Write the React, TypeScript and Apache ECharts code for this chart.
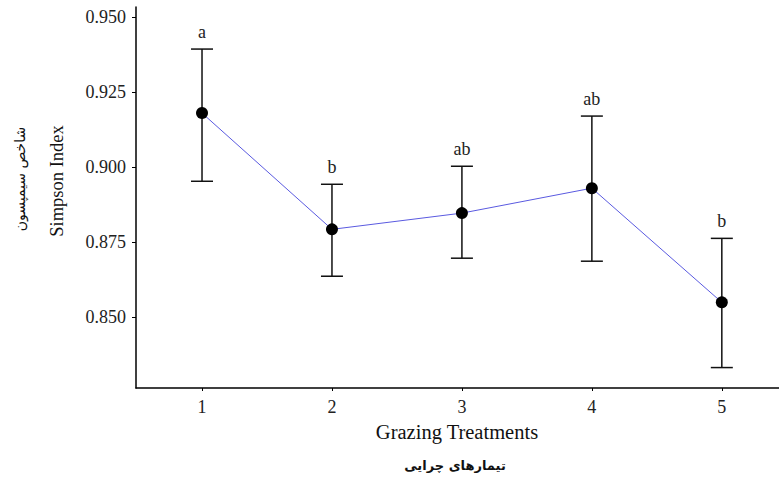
import React, { useEffect, useRef } from "react";
import * as echarts from "echarts";

const treatments = [1, 2, 3, 4, 5];
const means = [0.918, 0.8793, 0.8847, 0.893, 0.855];
const upper = [0.9393, 0.8943, 0.9003, 0.917, 0.8763];
const lower = [0.8953, 0.8637, 0.8697, 0.8687, 0.8333];
const groupLetters = ["a", "b", "ab", "ab", "b"];
const yTicks = [0.85, 0.875, 0.9, 0.925, 0.95];
const xTicks = [1, 2, 3, 4, 5];

const SERIF = "'Liberation Serif', 'Times New Roman', serif";
const PERSIAN = "'DejaVu Sans', 'Noto Sans', sans-serif";

export default function App() {
  const ref = useRef<HTMLDivElement>(null);
  useEffect(() => {
    if (!ref.current) return;
    const chart = echarts.init(ref.current, null, { renderer: "svg" });
    const errData = treatments.map((t, i) => [t, lower[i], upper[i], i]);
    chart.setOption({
      animation: false,
      backgroundColor: "#ffffff",
      grid: { left: 136, right: 0, top: 7, bottom: 89, containLabel: false },
      xAxis: {
        type: "value",
        min: 0.492,
        max: 5.44,
        splitLine: { show: false },
        axisLine: { show: true, onZero: false, lineStyle: { color: "#000", width: 1.5 } },
        axisTick: { show: true, length: 3, customValues: xTicks, lineStyle: { color: "#000" } },
        axisLabel: {
          customValues: xTicks,
          color: "#222",
          fontFamily: SERIF,
          fontSize: 18,
          margin: 10,
        },
      },
      yAxis: {
        type: "value",
        min: 0.8265,
        max: 0.9533,
        splitLine: { show: false },
        axisLine: { show: true, onZero: false, lineStyle: { color: "#000", width: 1.5 } },
        axisTick: { show: true, length: 4, customValues: yTicks, lineStyle: { color: "#000" } },
        axisLabel: {
          customValues: yTicks,
          color: "#222",
          fontFamily: SERIF,
          fontSize: 18,
          margin: 10,
          formatter: (v: number) => v.toFixed(3),
        },
      },
      series: [
        {
          type: "custom",
          data: errData,
          z: 2,
          renderItem: (params: any, api: any) => {
            const x = api.value(0);
            const lo = api.coord([x, api.value(1)]);
            const hi = api.coord([x, api.value(2)]);
            const idx = api.value(3);
            const hw = 11;
            const st = { stroke: "#111", lineWidth: 1.5 };
            return {
              type: "group",
              children: [
                { type: "line", shape: { x1: lo[0], y1: lo[1], x2: hi[0], y2: hi[1] }, style: st },
                { type: "line", shape: { x1: hi[0] - hw, y1: hi[1], x2: hi[0] + hw, y2: hi[1] }, style: st },
                { type: "line", shape: { x1: lo[0] - hw, y1: lo[1], x2: lo[0] + hw, y2: lo[1] }, style: st },
                {
                  type: "text",
                  x: hi[0],
                  y: hi[1] - 8,
                  style: {
                    text: groupLetters[idx],
                    fill: "#222",
                    font: `18px ${SERIF}`,
                    textAlign: "center",
                    textVerticalAlign: "bottom",
                  },
                },
              ],
            };
          },
        },
        {
          type: "line",
          data: treatments.map((t, i) => [t, means[i]]),
          z: 3,
          symbol: "circle",
          symbolSize: 12,
          lineStyle: { color: "#5a5ae0", width: 1 },
          itemStyle: { color: "#000" },
        },
      ],
      graphic: [
        {
          type: "text",
          x: 57,
          y: 181,
          rotation: Math.PI / 2,
          style: {
            text: "Simpson Index",
            font: `18.5px ${SERIF}`,
            fill: "#111",
            textAlign: "center",
            textVerticalAlign: "middle",
          },
        },
        {
          type: "text",
          x: 20,
          y: 179,
          rotation: Math.PI / 2,
          style: {
            text: "شاخص سیمپسون",
            font: `14px ${PERSIAN}`,
            fill: "#111",
            textAlign: "center",
            textVerticalAlign: "middle",
          },
        },
        {
          type: "text",
          x: 457,
          y: 432,
          style: {
            text: "Grazing Treatments",
            font: `20.5px ${SERIF}`,
            fill: "#111",
            textAlign: "center",
            textVerticalAlign: "middle",
          },
        },
        {
          type: "text",
          x: 455,
          y: 465,
          style: {
            text: "تیمارهای چرایی",
            font: `bold 13px ${PERSIAN}`,
            fill: "#111",
            textAlign: "center",
            textVerticalAlign: "middle",
          },
        },
      ],
    });
    return () => chart.dispose();
  }, []);
  return (
    <div
      ref={ref}
      style={{ position: "fixed", left: 0, top: 0, width: 779, height: 477, background: "#fff" }}
    />
  );
}
